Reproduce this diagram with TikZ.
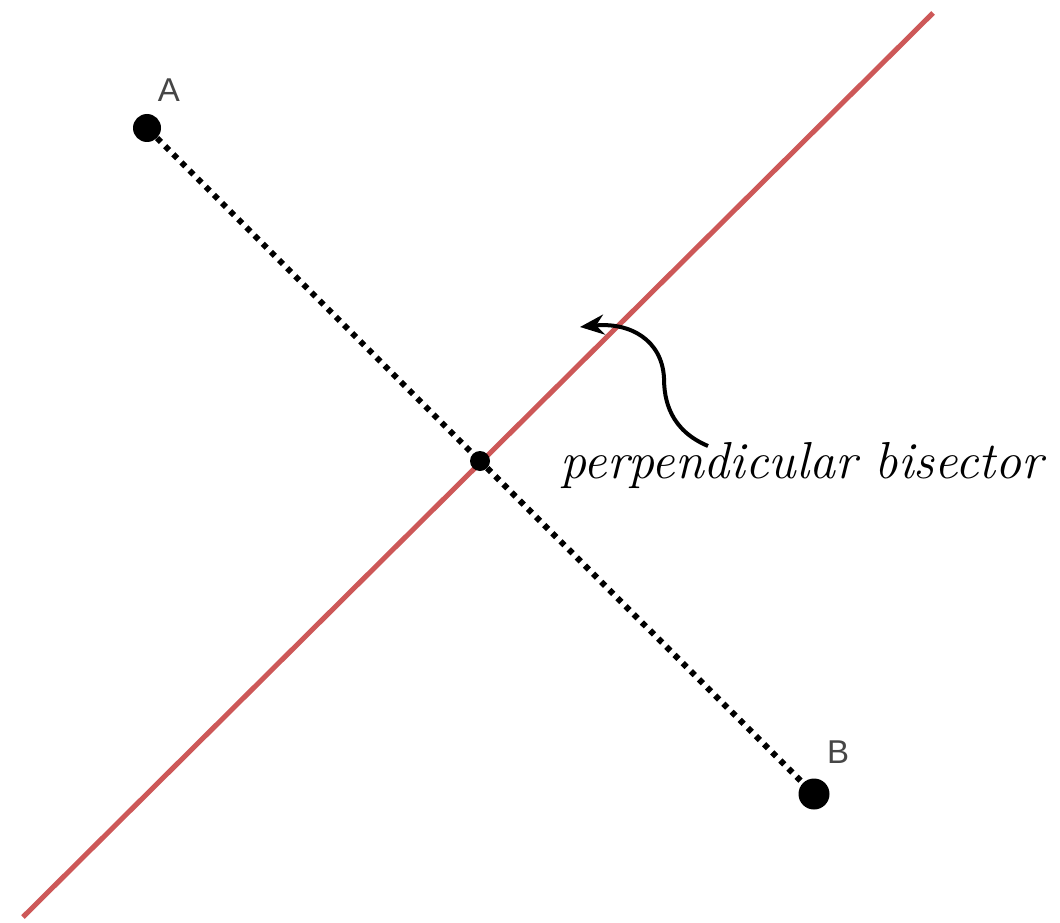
\documentclass[tikz,border=0pt]{standalone}
\usepackage{fontspec}
\newfontfamily\labelfont{Liberation Sans}
\usetikzlibrary{arrows.meta}
\definecolor{bisred}{RGB}{205,88,88}
\definecolor{lblgray}{RGB}{70,70,70}
\tikzset{
  pt/.style={circle,fill=black,inner sep=0pt},
  seg/.style={line width=6pt,dash pattern=on 5.5pt off 6pt,black},
  bis/.style={line width=5pt,bisred},
  ptlabel/.style={font=\labelfont\fontsize{33}{36}\selectfont,text=lblgray,inner sep=0pt},
  annot/.style={line width=4pt,-{Stealth[length=24pt,width=20pt]}},
  atext/.style={font=\fontsize{52}{60}\selectfont\itshape,inner sep=0pt,anchor=base west}
}
\begin{document}
\begin{tikzpicture}[x=1pt,y=-1pt]
\useasboundingbox (0,0) rectangle (1060,923);
\fill[white] (0,0) rectangle (1060,923);
\coordinate (L1) at (23,917);
\coordinate (L2) at (933,13);
\draw[bis] (L1) -- (L2);
\node[pt,minimum size=28pt] (A) at (147,128) {};
\node[pt,minimum size=31pt] (B) at (814,794) {};
\node[pt,minimum size=20pt] (M) at (480,461) {};
\draw[seg] (A) -- (M);
\draw[seg] (M) -- (B);
\node[ptlabel] (la) at (169,90) {A};
\node[ptlabel] (lb) at (838,752) {B};
\node[atext] (txt) at (560,478) {perpendicular bisector};
\coordinate (s) at (708,446);
\coordinate (k) at (664,378);
\coordinate (tip) at (580,327);
\draw[annot] (s) .. controls (670,430) and (664,400) .. (k) .. controls (662,340) and (630,322) .. (tip);
\end{tikzpicture}
\end{document}
